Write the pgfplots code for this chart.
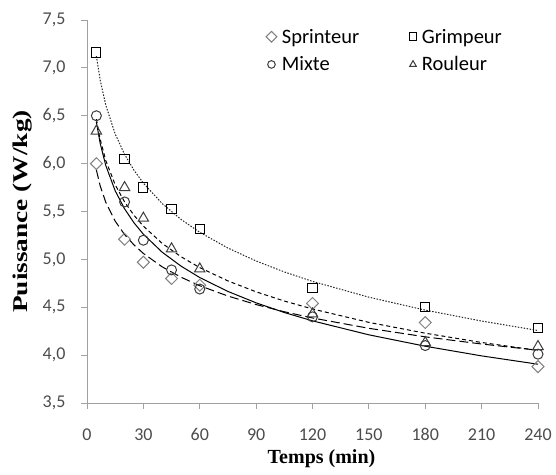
\documentclass[border=0pt]{standalone}
\usepackage{fontspec}
\setmainfont{Liberation Serif}
\newfontfamily\calib{Carlito}
\usepackage{pgfplots}
\pgfplotsset{compat=1.18}

\definecolor{markgray}{HTML}{808080}
\definecolor{markdark}{HTML}{3C3C3C}
\definecolor{axisgray}{HTML}{A0A0A0}

\begin{document}
\begin{tikzpicture}
\begin{axis}[
    name=ax,
    scale only axis,
    width=451pt, height=383pt,
    xmin=0, xmax=240, ymin=3.5, ymax=7.5,
    axis lines*=left,
    axis line style={axisgray, line width=0.8pt},
    every tick/.style={axisgray, line width=0.8pt},
    tick align=outside, major tick length=6pt,
    xtick={0,30,...,240},
    ytick={3.5,4,4.5,5,5.5,6,6.5,7,7.5},
    /pgf/number format/assume math mode=true,
    ticklabel style={font=\calib\fontsize{18}{20}\selectfont, text=black!70},
    y tick label style={/pgf/number format/fixed, /pgf/number format/fixed zerofill,
        /pgf/number format/precision=1, /pgf/number format/use comma},
    xticklabel style={yshift=-16pt},
    yticklabel style={xshift=-12pt},
    xlabel={Temps (min)},
    ylabel={\scalebox{1.3}[1]{Puissance (W/kg)}},
    xlabel style={font=\bfseries\fontsize{20}{22}\selectfont,
        at={(axis description cs:0.52,-0.146)}, anchor=center},
    ylabel style={font=\bfseries\fontsize{21}{23}\selectfont,
        at={(axis description cs:-0.144,0.5)}, anchor=center},
    legend columns=2,
    legend cell align=left,
    legend image post style={mark size=3.8pt},
    legend style={at={(axis description cs:0.39,0.92)}, anchor=west,
        draw=none, fill=none, font=\calib\fontsize{20.5}{24}\selectfont,
        row sep=8pt,
        /tikz/every odd column/.append style={column sep=3pt},
        /tikz/every even column/.append style={column sep=48pt}},
]

% courbes d'ajustement (log)
\addplot[forget plot, black, line width=1pt, dash pattern=on 9pt off 4pt] coordinates {
    (5,5.933) (7,5.769) (10,5.596) (15,5.399) (20,5.259) (25,5.151) (30,5.062)
    (40,4.922) (50,4.814) (60,4.725) (75,4.617) (90,4.528) (105,4.453)
    (120,4.388) (150,4.280) (180,4.191) (210,4.116) (240,4.051)
};
\addplot[forget plot, black!85, line width=1pt, dash pattern=on 1.5pt off 1.5pt] coordinates {
    (5,7.123) (7,6.874) (10,6.610) (15,6.310) (20,6.097) (25,5.931) (30,5.796)
    (40,5.583) (50,5.418) (60,5.283) (75,5.118) (90,4.983) (105,4.869)
    (120,4.770) (150,4.605) (180,4.470) (210,4.356) (240,4.257)
};
\addplot[forget plot, black, line width=1pt] coordinates {
    (5,6.433) (7,6.213) (10,5.980) (15,5.716) (20,5.528) (25,5.382) (30,5.263)
    (40,5.075) (50,4.930) (60,4.810) (75,4.665) (90,4.546) (105,4.445)
    (120,4.358) (150,4.212) (180,4.093) (210,3.992) (240,3.905)
};
\addplot[forget plot, black, line width=1pt, dash pattern=on 4pt off 3pt] coordinates {
    (5,6.465) (7,6.255) (10,6.032) (15,5.779) (20,5.600) (25,5.460) (30,5.347)
    (40,5.167) (50,5.028) (60,4.914) (75,4.775) (90,4.661) (105,4.565)
    (120,4.482) (150,4.342) (180,4.229) (210,4.132) (240,4.049)
};

% mesures
\addplot[only marks, mark=square, mark size=4.2pt,
    mark options={rotate=45, markgray, line width=1pt}] coordinates {
    (5,6.00) (20,5.21) (30,4.97) (45,4.80) (60,4.73) (120,4.54) (180,4.34) (240,3.88)
};
\addlegendentry{Sprinteur}
\addplot[only marks, mark=square, mark size=4.6pt,
    mark options={black, line width=1pt}] coordinates {
    (5,7.16) (20,6.05) (30,5.75) (45,5.53) (60,5.32) (120,4.70) (180,4.50) (240,4.28)
};
\addlegendentry{Grimpeur}
\addplot[only marks, mark=o, mark size=5pt,
    mark options={markdark, line width=1pt}] coordinates {
    (5,6.50) (20,5.60) (30,5.20) (45,4.89) (60,4.69) (120,4.40) (180,4.10) (240,4.01)
};
\addlegendentry{Mixte}
\addplot[only marks, mark=triangle, mark size=6pt,
    mark options={markdark, line width=1pt}] coordinates {
    (5,6.34) (20,5.75) (30,5.43) (45,5.11) (60,4.90) (120,4.43) (180,4.13) (240,4.09)
};
\addlegendentry{Rouleur}

\end{axis}
\path (ax.south west) ++(-87pt,-72pt) coordinate (bl);
\path (ax.north east) ++(18pt,20pt) coordinate (tr);
\pgfresetboundingbox
\useasboundingbox (bl) rectangle (tr);
\end{tikzpicture}
\end{document}
